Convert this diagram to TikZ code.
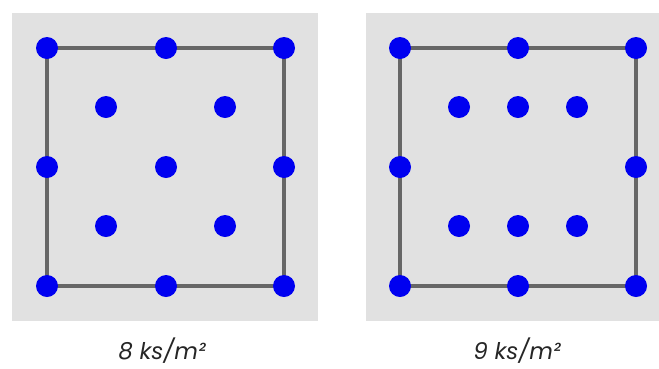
\documentclass[tikz,border=0pt]{standalone}
\usepackage{fontspec}
\setmainfont{Poppins}
\begin{document}
\begin{tikzpicture}[x=1pt,y=-1pt,
  edge/.style={draw=linegray,line width=3.5pt},
  dot/.style={circle,fill=dotblue,draw=none,minimum size=22pt,inner sep=0pt},
  captext/.style={font=\fontsize{23}{26}\selectfont\itshape,text=black!85,anchor=base,inner sep=0pt}]
\definecolor{panelgray}{HTML}{E1E1E1}
\definecolor{linegray}{HTML}{666666}
\definecolor{dotblue}{HTML}{0000F0}
\useasboundingbox (0,0) rectangle (659,368);
\fill[white] (0,0) rectangle (659,368);
\fill[panelgray] (12,13) rectangle (318,321);
\fill[panelgray] (366,13) rectangle (659,321);
% left panel
\coordinate (A1) at (47,48);
\coordinate (A3) at (284,48);
\coordinate (A6) at (47,286);
\coordinate (A8) at (284,286);
\draw[edge] (A1) -- (A3) -- (A8) -- (A6) -- cycle;
\node[dot] (a1) at (A1) {};
\node[dot] (a2) at (166,48) {};
\node[dot] (a3) at (A3) {};
\node[dot] (a4) at (47,167) {};
\node[dot] (a5) at (284,167) {};
\node[dot] (a6) at (A6) {};
\node[dot] (a7) at (166,286) {};
\node[dot] (a8) at (A8) {};
\node[dot] (a9) at (106,107) {};
\node[dot] (a10) at (225,107) {};
\node[dot] (a11) at (166,167) {};
\node[dot] (a12) at (106,226) {};
\node[dot] (a13) at (225,226) {};
% right panel
\coordinate (B1) at (400,48);
\coordinate (B3) at (636,48);
\coordinate (B6) at (400,286);
\coordinate (B8) at (636,286);
\draw[edge] (B1) -- (B3) -- (B8) -- (B6) -- cycle;
\node[dot] (b1) at (B1) {};
\node[dot] (b2) at (518,48) {};
\node[dot] (b3) at (B3) {};
\node[dot] (b4) at (400,167) {};
\node[dot] (b5) at (636,167) {};
\node[dot] (b6) at (B6) {};
\node[dot] (b7) at (518,286) {};
\node[dot] (b8) at (B8) {};
\node[dot] (b9) at (459,107) {};
\node[dot] (b10) at (518,107) {};
\node[dot] (b11) at (577,107) {};
\node[dot] (b12) at (459,226) {};
\node[dot] (b13) at (518,226) {};
\node[dot] (b14) at (577,226) {};
\node[captext] (c1) at (162,359) {8 ks/m²};
\node[captext] (c2) at (517,359) {9 ks/m²};
\end{tikzpicture}
\end{document}
